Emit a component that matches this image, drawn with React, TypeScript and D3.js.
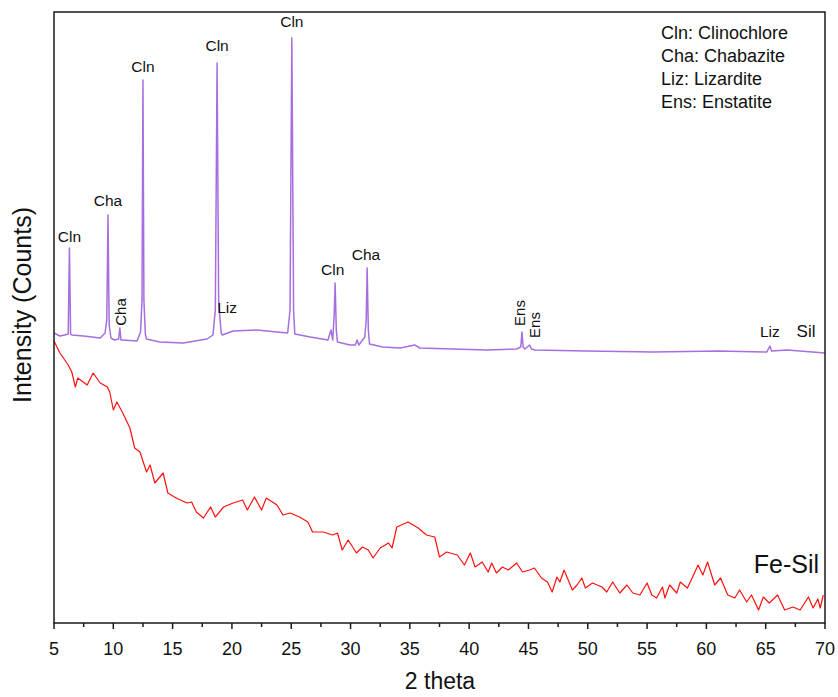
import React from "react";
import * as d3 from "d3";

const redX = [5.0,5.5,6.2,6.5,6.8,7.0,7.8,8.3,8.9,9.5,9.7,10.0,10.3,10.8,11.4,11.8,12.25,12.8,13.1,13.5,14.2,14.6,15.3,16.2,16.6,17.0,17.6,18.2,18.6,19.3,20.1,20.9,21.3,21.9,22.5,22.9,23.8,24.3,24.9,25.7,26.4,26.8,27.7,28.5,28.9,29.3,29.8,30.5,31.0,31.5,31.9,32.5,33.2,33.5,33.9,34.85,35.7,36.4,37.1,37.5,38.1,39.0,39.6,40.1,40.5,41.1,41.6,41.9,42.3,42.8,43.3,44.0,44.5,45.1,45.5,46.1,46.6,47.0,47.4,47.65,48.0,48.7,49.1,49.5,49.8,50.4,51.2,51.6,52.1,52.7,53.3,53.8,54.4,55.0,55.4,55.8,56.3,56.5,56.9,57.5,57.8,58.4,58.8,59.3,59.7,60.1,60.7,61.2,61.8,62.4,62.8,63.4,63.8,64.4,64.8,65.3,66.0,66.6,67.3,67.9,68.6,69.0,69.4,69.6,69.85];
const redY = [282,270,258,251,236,245,238,250,240,236,231,213,221,210,195,175,171,151,158,140,150,130,125,120,121,111,105,116,106,116,120,123,113,126,113,125,118,108,110,106,101,91,91,88,90,73,83,70,76,73,65,75,80,75,96,101,95,88,86,66,71,68,58,70,56,61,51,60,50,56,53,60,51,53,55,45,41,31,46,41,53,33,38,45,35,40,36,31,41,30,38,30,28,40,28,25,36,25,38,30,41,35,45,58,48,61,38,45,28,25,33,21,28,13,26,20,28,13,16,13,26,15,24,15,28];

const purpleX = [5.0,5.5,5.9,6.2,6.3,6.4,6.5,7.5,8.2,8.9,9.3,9.45,9.55,9.65,9.8,10.1,10.45,10.55,10.65,10.8,12.0,12.3,12.42,12.5,12.58,12.7,12.8,13.9,15.9,17.9,18.4,18.6,18.75,18.88,19.0,19.1,19.2,20.1,22.1,23.8,24.7,24.9,25.05,25.2,25.3,26.6,28.1,28.35,28.5,28.62,28.7,28.8,28.9,29.95,30.4,30.55,30.7,31.2,31.32,31.4,31.5,31.6,32.7,34.2,35.4,35.85,38.6,41.5,44.0,44.35,44.45,44.55,44.7,45.1,45.25,45.55,49.9,55.5,61.1,65.1,65.35,65.5,66.8,70.0];
const purpleY = [290,287,288,289,375,289,288,287,286,285,290,303,408,298,285,283,284,295,283,283,282,291,323,543,323,289,284,281,280,284,288,313,560,323,303,290,288,292,293,291,290,313,585,313,289,286,283,293,283,308,340,293,281,278,278,283,278,286,303,355,293,279,276,275,278,275,274,273,274,276,291,276,274,278,274,273,272,271,272,271,277,272,273,270];

const xTicks = [5,10,15,20,25,30,35,40,45,50,55,60,65,70];
const xMinorTicks = [7.5,12.5,17.5,22.5,27.5,32.5,37.5,42.5,47.5,52.5,57.5,62.5,67.5];

const peakLabels = [
  { text: "Cln", x: 6.3, y: 381, rotate: false, size: 15.5 },
  { text: "Cha", x: 9.55, y: 417, rotate: false, size: 15.5 },
  { text: "Cha", x: 10.65, y: 311, rotate: true, size: 15 },
  { text: "Cln", x: 12.5, y: 551, rotate: false, size: 15.5 },
  { text: "Cln", x: 18.75, y: 572, rotate: false, size: 15.5 },
  { text: "Liz", x: 19.6, y: 310, rotate: false, size: 15.5 },
  { text: "Cln", x: 25.05, y: 596, rotate: false, size: 15.5 },
  { text: "Cln", x: 28.5, y: 348, rotate: false, size: 15.5 },
  { text: "Cha", x: 31.3, y: 363, rotate: false, size: 15.5 },
  { text: "Ens", x: 44.3, y: 310, rotate: true, size: 15 },
  { text: "Ens", x: 45.55, y: 298, rotate: true, size: 15 },
  { text: "Liz", x: 65.35, y: 286, rotate: false, size: 15.5 },
  { text: "Sil", x: 68.4, y: 286, rotate: false, size: 17 },
];

const legendLines = ["Cln: Clinochlore", "Cha: Chabazite", "Liz: Lizardite", "Ens: Enstatite"];

export default function App() {
  const W = 838, H = 697;
  const left = 54, right = 825, top = 12, bottom = 623;
  const x = d3.scaleLinear().domain([5, 70]).range([left, right]);
  const y = d3.scaleLinear().domain([0, 611]).range([bottom, top]);
  const redPath = d3.line<number>().x((_, i) => x(redX[i])).y((d) => y(d))(redY as any) || "";
  const purplePath = d3.line<number>().x((_, i) => x(purpleX[i])).y((d) => y(d))(purpleY as any) || "";
  const font = "Arial, 'Liberation Sans', sans-serif";
  return (
    <svg width={W} height={H} style={{ position: "absolute", left: 0, top: 0, background: "#fff" }} fontFamily={font}>
      <path d={purplePath} fill="none" stroke="#a66ee0" strokeWidth={1.5} strokeLinejoin="round" />
      <path d={redPath} fill="none" stroke="#ff1010" strokeWidth={1.2} strokeLinejoin="round" />
      <rect x={left} y={top} width={right - left} height={bottom - top} fill="none" stroke="#1a1a1a" strokeWidth={1.5} />
      {xTicks.map((t) => (
        <g key={"t" + t}>
          <line x1={x(t)} x2={x(t)} y1={bottom} y2={bottom + 6} stroke="#1a1a1a" strokeWidth={1.5} />
          <text x={x(t)} y={655} textAnchor="middle" fontSize={18} fill="#111">{t}</text>
        </g>
      ))}
      {xMinorTicks.map((t) => (
        <line key={"m" + t} x1={x(t)} x2={x(t)} y1={bottom} y2={bottom + 4} stroke="#1a1a1a" strokeWidth={1.5} />
      ))}
      <text x={440} y={689} textAnchor="middle" fontSize={23} fill="#111">2 theta</text>
      <text transform="translate(31,305) rotate(-90)" textAnchor="middle" fontSize={25} fill="#111">Intensity (Counts)</text>
      {peakLabels.map((p, i) =>
        p.rotate ? (
          <text key={i} transform={`translate(${x(p.x) + 5},${y(p.y)}) rotate(-90)`} textAnchor="middle" fontSize={p.size} fill="#111">{p.text}</text>
        ) : (
          <text key={i} x={x(p.x)} y={y(p.y)} textAnchor="middle" fontSize={p.size} fill="#111">{p.text}</text>
        )
      )}
      {legendLines.map((l, i) => (
        <text key={l} x={661} y={39 + i * 23} fontSize={18} fill="#111">{l}</text>
      ))}
      <text x={819} y={573} textAnchor="end" fontSize={25} fill="#111">Fe-Sil</text>
    </svg>
  );
}
